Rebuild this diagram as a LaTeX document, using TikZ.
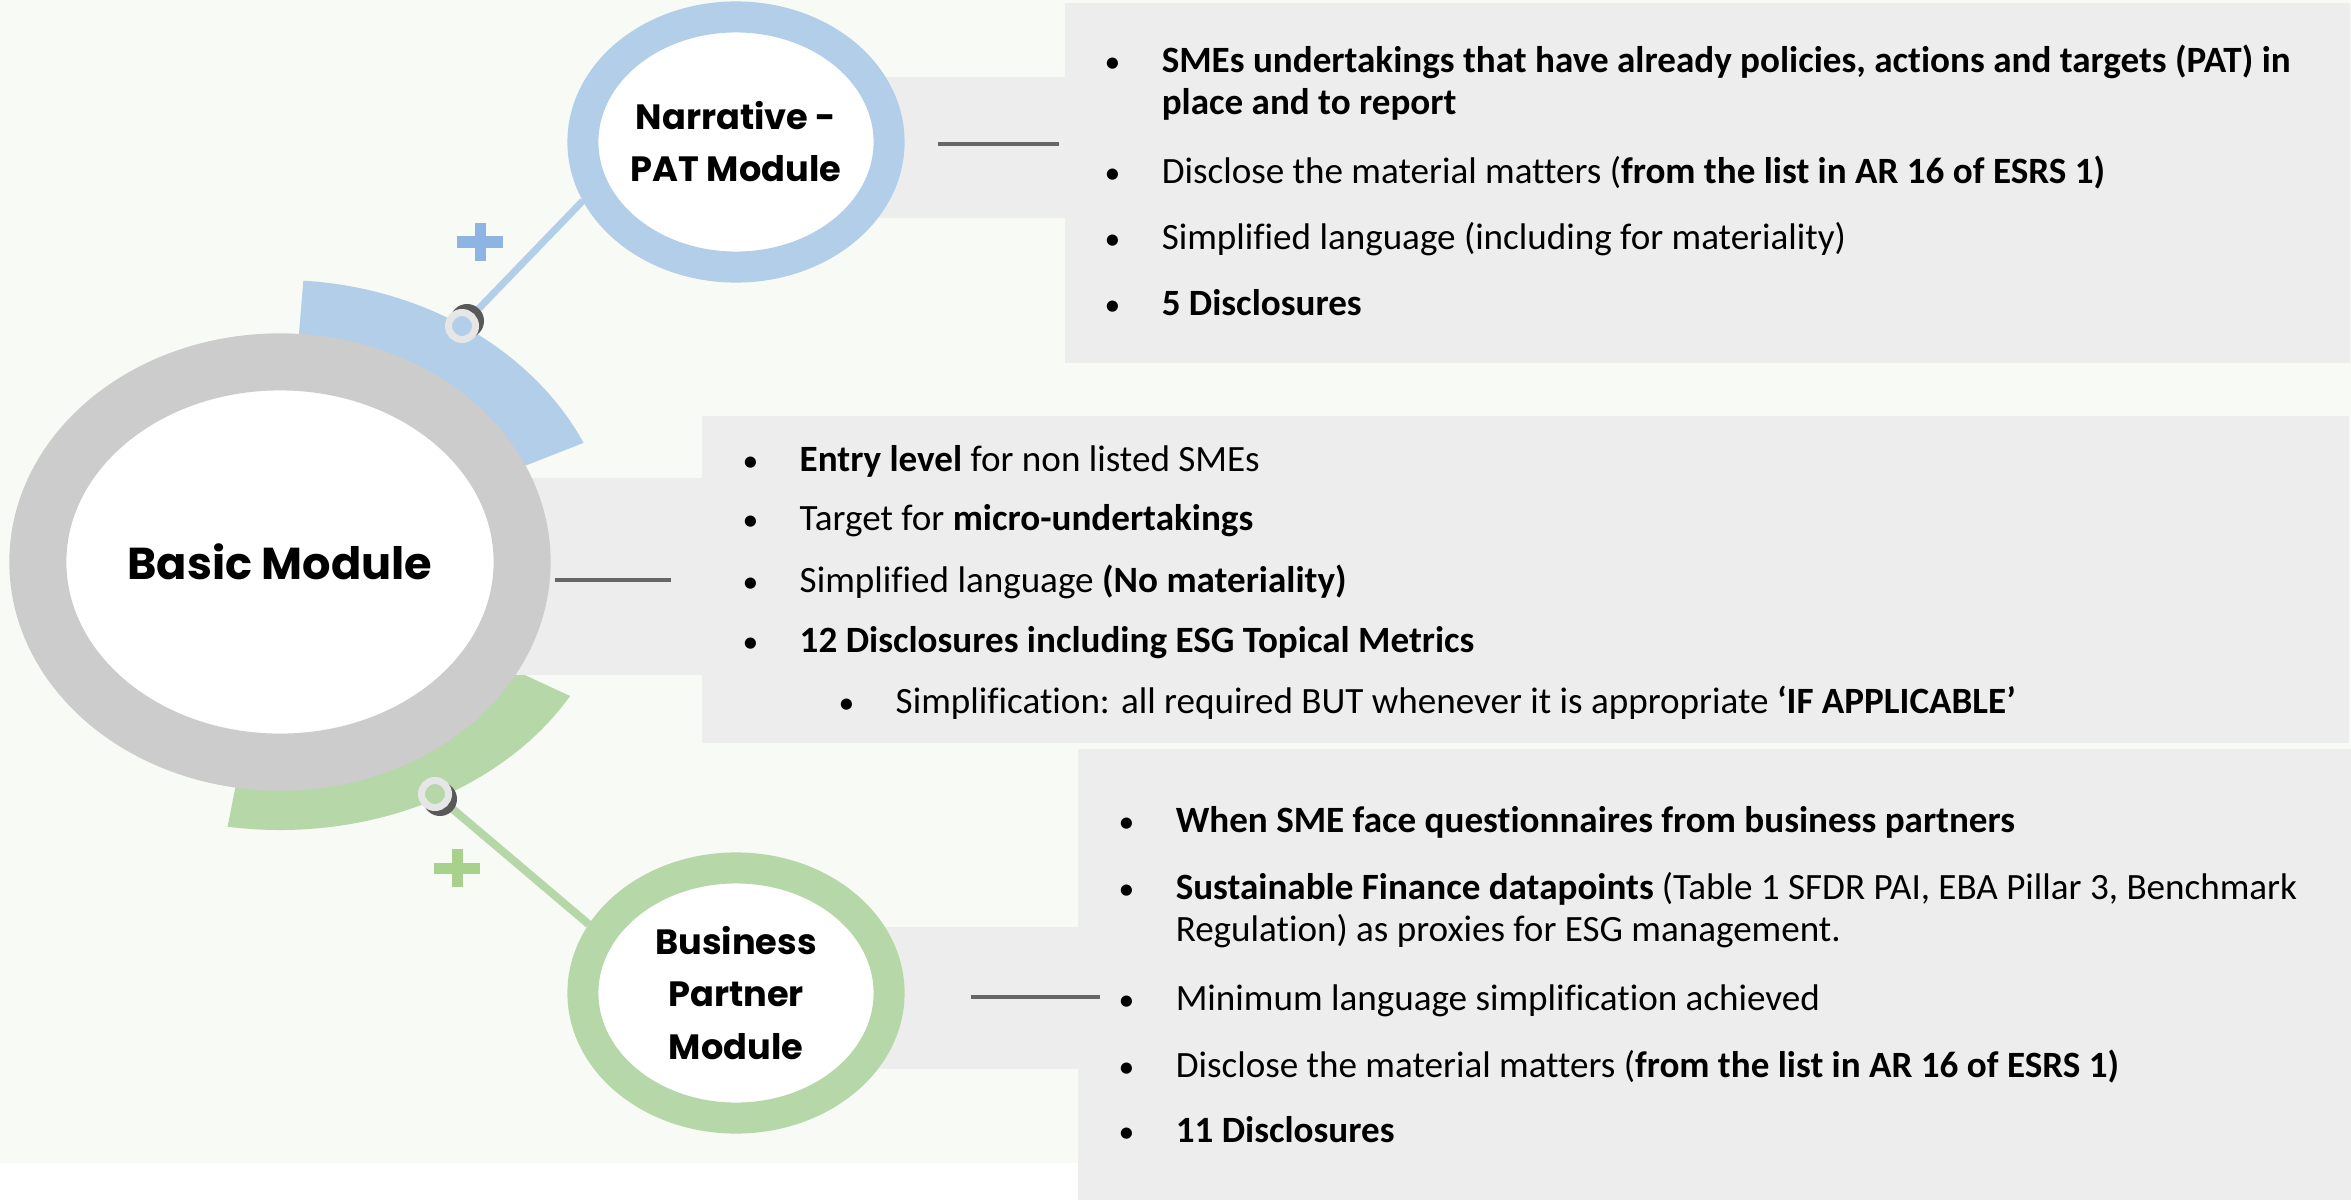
\documentclass[tikz,border=0pt]{standalone}
\usepackage{fontspec}
\setmainfont{Carlito}[Ligatures=NoCommon]
\newfontfamily\labelfont{Poppins}
\usepackage{tikz}
\usetikzlibrary{shapes.geometric, calc}
\definecolor{paleback}{HTML}{F8FAF5}
\definecolor{panelgray}{HTML}{EDEDED}
\definecolor{ringgray}{HTML}{CCCCCC}
\definecolor{ringblue}{HTML}{B2CEE8}
\definecolor{plusblue}{HTML}{8DB4E2}
\definecolor{ringgreen}{HTML}{B6D7A8}
\definecolor{plusgreen}{HTML}{A9D18E}
\definecolor{stubgray}{HTML}{666666}
\definecolor{jointrim}{HTML}{E6E6E6}
\definecolor{jointdark}{HTML}{595959}
\tikzstyle{panel} = [rectangle, anchor=north west, inner sep=0pt, fill=panelgray]
\tikzstyle{bigring} = [ellipse, draw=ringgray, line width=0.57cm, fill=white, inner sep=0pt, minimum width=4.84cm, minimum height=4.0cm, align=center, font=\labelfont\bfseries\fontsize{12.7}{15}\selectfont]
\tikzstyle{modring} = [ellipse, line width=0.31cm, fill=white, inner sep=0pt, minimum width=3.06cm, minimum height=2.5cm, align=center, font=\labelfont\bfseries\fontsize{10}{14.8}\selectfont]
\tikzstyle{bullet} = [anchor=base west, inner sep=0pt, font=\fontsize{10.55}{12.2}\selectfont]
\tikzstyle{stub} = [draw=stubgray, line width=0.04cm]
\tikzset{joint/.style={circle, draw=jointrim, line width=0.07cm, minimum size=0.27cm, inner sep=0pt},
         jointshadow/.style={circle, fill=jointdark, minimum size=0.34cm, inner sep=0pt},
         plusmark/.style={line width=0.11cm}
}
\newcommand{\bul}{\makebox[0.57cm][l]{\fontsize{9}{9}\selectfont•}}

\begin{document}
\begin{tikzpicture}[x=0.01cm, y=-0.01cm]
\useasboundingbox (0,0) rectangle (2351,1200);
\fill[paleback] (0,0) rectangle (2351,1163);
\coordinate (bc) at (280,562);
\fill[ringblue] (bc) -- ++(-86:335 and 282) arc[start angle=-86, end angle=-25, x radius=335, y radius=282] -- cycle;
\fill[ringgreen] (bc) -- ++(30:335 and 268) arc[start angle=30, end angle=99, x radius=335, y radius=268] -- cycle;

\node (narrband) [panel, minimum width=3.28cm, minimum height=1.41cm] at (736,76) {};
\node (narrpanel) [panel, minimum width=12.85cm, minimum height=3.60cm] at (1064,2) {};
\node (basicband) [panel, minimum width=4.21cm, minimum height=1.97cm] at (280,477) {};
\node (basicpanel) [panel, minimum width=16.46cm, minimum height=3.27cm] at (701,415) {};
\node (bizband) [panel, minimum width=3.41cm, minimum height=1.42cm] at (736,926) {};
\node (bizpanel) [panel, minimum width=12.74cm, minimum height=4.52cm] at (1077,748) {};

\node (basic) [bigring] at (bc) {Basic Module};
\node (narr) [modring, draw=ringblue] at (736,142) {Narrative -\\PAT Module};
\node (biz) [modring, draw=ringgreen] at (736,993) {Business\\Partner\\Module};

\draw [stub] ($(narr.east)+(33,2)$) -- ++(121,0);
\draw [stub] ($(basic.east)+(4,18)$) -- ++(116,0);
\draw [stub] ($(biz.east)+(66,4)$) -- ++(129,0);

\coordinate (bluejoint) at (462,326);
\coordinate (greenjoint) at (435,794);
\draw [ringblue, line width=0.07cm] (bluejoint) -- (narr.201);
\draw [ringgreen, line width=0.08cm] (greenjoint) -- (biz.155);
\node (blueshade) [jointshadow] at ($(bluejoint)+(5,-5)$) {};
\node (bluedot) [joint, fill=ringblue] at (bluejoint) {};
\node (greenshade) [jointshadow] at ($(greenjoint)+(5,5)$) {};
\node (greendot) [joint, fill=ringgreen] at (greenjoint) {};

\coordinate (blueplus) at (480,242);
\coordinate (greenplus) at (457,868);
\draw [plusmark, plusblue] (blueplus) ++(-23,0) -- ++(46,0) (blueplus) ++(0,-19) -- ++(0,38);
\draw [plusmark, plusgreen] (greenplus) ++(-23,0) -- ++(46,0) (greenplus) ++(0,-19) -- ++(0,38);

\node (pat1) [bullet] at (1104,72) {\bul\begin{tabular}[t]{@{}l@{}}\textbf{SMEs undertakings that have already policies, actions and targets (PAT) in}\\\textbf{place and to report}\end{tabular}};
\node (pat2) [bullet] at (1104,183) {\bul Disclose the material matters (\textbf{from the list in AR 16 of ESRS 1)}};
\node (pat3) [bullet] at (1104,249) {\bul Simplified language (including for materiality)};
\node (pat4) [bullet] at (1104,315) {\bul\textbf{5 Disclosures}};

\node (bas1) [bullet] at (742,471) {\bul\textbf{Entry level} for non listed SMEs};
\node (bas2) [bullet] at (742,530) {\bul Target for \textbf{micro-undertakings}};
\node (bas3) [bullet] at (742,592) {\bul Simplified language \textbf{(No materiality)}};
\node (bas4) [bullet] at (742,652) {\bul\textbf{12 Disclosures including ESG Topical Metrics}};
\node (bas5) [bullet] at (838,713) {\bul Simplification: all required BUT whenever it is appropriate \textbf{‘IF APPLICABLE’}};

\node (bp1) [bullet] at (1118,832) {\bul\textbf{When SME face questionnaires from business partners}};
\node (bp2) [bullet] at (1118,899) {\bul\begin{tabular}[t]{@{}l@{}}\textbf{Sustainable Finance datapoints} (Table 1 SFDR PAI, EBA Pillar 3, Benchmark\\Regulation) as proxies for ESG management.\end{tabular}};
\node (bp3) [bullet] at (1118,1010) {\bul Minimum language simplification achieved};
\node (bp4) [bullet] at (1118,1077) {\bul Disclose the material matters (\textbf{from the list in AR 16 of ESRS 1)}};
\node (bp5) [bullet] at (1118,1142) {\bul\textbf{11 Disclosures}};
\end{tikzpicture}
\end{document}
